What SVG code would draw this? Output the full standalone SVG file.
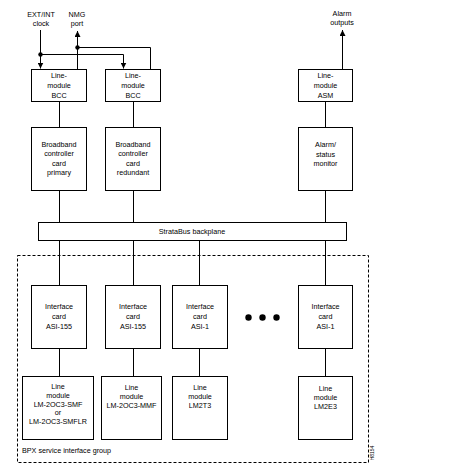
<svg xmlns="http://www.w3.org/2000/svg" width="468" height="475" viewBox="0 0 468 475">
<style>
text{font-family:"Liberation Sans",Arial,sans-serif;font-size:7.2px;fill:#000;text-anchor:middle}
.b{fill:#fff;stroke:#000;stroke-width:1}
.c{fill:none;stroke:#000;stroke-width:1}
</style>
<defs>
<marker id="ah" viewBox="0 0 6 6" refX="6" refY="3" markerWidth="6" markerHeight="6" markerUnits="userSpaceOnUse" orient="auto">
<path d="M0,0 L6,3 L0,6 z" fill="#000"/>
</marker>
</defs>
<rect width="468" height="475" fill="#fff"/>
<g id="connectors">
<path class="c" d="M40.5,30 V68.5" marker-end="url(#ah)"/>
<path class="c" d="M40.5,54.5 H123.5 V68.5" marker-end="url(#ah)"/>
<path class="c" d="M77.5,69 V31" marker-end="url(#ah)"/>
<path class="c" d="M77.5,47.5 H150.5 V69"/>
<circle cx="40.5" cy="54.5" r="2.2"/>
<circle cx="77.5" cy="47.5" r="2.2"/>
<path class="c" d="M342.5,69 V30" marker-end="url(#ah)"/>
<path class="c" d="M59.5,101 V127 M59.5,190 V222 M59.5,240 V285 M59.5,348 V376"/>
<path class="c" d="M133.5,101 V127 M133.5,190 V222 M133.5,240 V285 M133.5,348 V376"/>
<path class="c" d="M199.5,240 V285 M199.5,348 V376"/>
<path class="c" d="M325.5,101 V127 M325.5,190 V222 M325.5,240 V285 M325.5,348 V376"/>
</g>
<g id="labels-top">
<text x="41" y="16.5">EXT/INT</text>
<text x="41" y="25.5">clock</text>
<text x="77" y="16.5">NMG</text>
<text x="77" y="25.5">port</text>
<text x="342" y="15.5">Alarm</text>
<text x="342" y="25">outputs</text>
</g>
<g id="bcc1"><rect class="b" x="31.5" y="69.5" width="55" height="32"/><text x="59" y="78">Line-</text><text x="59" y="88">module</text><text x="59" y="98">BCC</text></g>
<g id="bcc2"><rect class="b" x="105.5" y="69.5" width="55" height="32"/><text x="133" y="78">Line-</text><text x="133" y="88">module</text><text x="133" y="98">BCC</text></g>
<g id="asm"><rect class="b" x="298.5" y="69.5" width="54" height="32"/><text x="325.5" y="78">Line-</text><text x="325.5" y="88">module</text><text x="325.5" y="98">ASM</text></g>
<g id="bcc-primary"><rect class="b" x="31.5" y="127.5" width="55" height="63"/><text x="59" y="146.5">Broadband</text><text x="59" y="156">controller</text><text x="59" y="165.5">card</text><text x="59" y="175">primary</text></g>
<g id="bcc-redundant"><rect class="b" x="105.5" y="127.5" width="55" height="63"/><text x="133" y="146.5">Broadband</text><text x="133" y="156">controller</text><text x="133" y="165.5">card</text><text x="133" y="175">redundant</text></g>
<g id="alarm-monitor"><rect class="b" x="298.5" y="127.5" width="54" height="63"/><text x="325.5" y="146.5">Alarm/</text><text x="325.5" y="156.5">status</text><text x="325.5" y="166">monitor</text></g>
<g id="backplane"><rect class="b" x="38.5" y="222.5" width="308" height="18"/><text x="192" y="234">StrataBus backplane</text></g>
<g id="service-group"><rect x="17.5" y="255.5" width="351" height="207" fill="none" stroke="#000" stroke-width="1" stroke-dasharray="3,2"/><text x="22" y="453" style="text-anchor:start">BPX service interface group</text></g>
<g id="ic1"><rect class="b" x="31.5" y="285.5" width="55" height="63"/><text x="59" y="309">Interface</text><text x="59" y="319">card</text><text x="59" y="328.5">ASI-155</text></g>
<g id="ic2"><rect class="b" x="105.5" y="285.5" width="55" height="63"/><text x="133" y="309">Interface</text><text x="133" y="319">card</text><text x="133" y="328.5">ASI-155</text></g>
<g id="ic3"><rect class="b" x="172.5" y="285.5" width="55" height="63"/><text x="200" y="309">Interface</text><text x="200" y="319">card</text><text x="200" y="328.5">ASI-1</text></g>
<g id="ic4"><rect class="b" x="298.5" y="285.5" width="54" height="63"/><text x="325.5" y="309">Interface</text><text x="325.5" y="319">card</text><text x="325.5" y="328.5">ASI-1</text></g>
<g id="ellipsis"><circle cx="248.5" cy="317.5" r="3.2"/><circle cx="262.5" cy="317.5" r="3.2"/><circle cx="276.5" cy="317.5" r="3.2"/></g>
<g id="lm1"><rect class="b" x="22.5" y="376.5" width="71" height="63"/><text x="58" y="388.5">Line</text><text x="58" y="397.5">module</text><text x="58" y="406.5">LM-2OC3-SMF</text><text x="58" y="415">or</text><text x="58" y="424">LM-2OC3-SMFLR</text></g>
<g id="lm2"><rect class="b" x="101.5" y="376.5" width="60" height="63"/><text x="131.5" y="389.5">Line</text><text x="131.5" y="398.5">module</text><text x="131.5" y="407.5">LM-2OC3-MMF</text></g>
<g id="lm3"><rect class="b" x="172.5" y="376.5" width="55" height="63"/><text x="200" y="389.5">Line</text><text x="200" y="398.5">module</text><text x="200" y="407.5">LM2T3</text></g>
<g id="lm4"><rect class="b" x="298.5" y="376.5" width="54" height="63"/><text x="325.5" y="390.5">Line</text><text x="325.5" y="399.5">module</text><text x="325.5" y="408.5">LM2E3</text></g>
<text x="0" y="0" transform="translate(374,453) rotate(-90)" style="font-size:5px">H8154</text>
</svg>
